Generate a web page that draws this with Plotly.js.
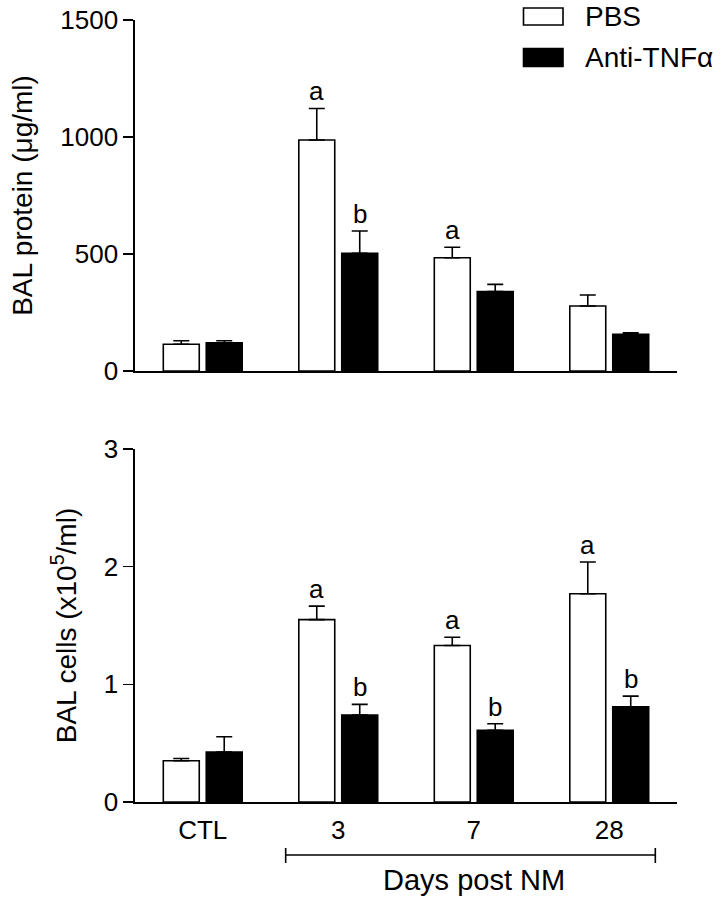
<!DOCTYPE html>
<html>
<head>
<meta charset="utf-8">
<script src="https://cdn.plot.ly/plotly-3.0.1.min.js"></script>
<style>html,body{margin:0;padding:0;background:#fff;}#chart{width:721px;height:899px;}</style>
</head>
<body>
<div id="chart"></div>
<script>
const categories = ['CTL', '3', '7', '28'];
const seriesNames = ['PBS', 'Anti-TNFα'];

const proteinPBS = [114, 987, 484, 278];
const proteinPBSErr = [15, 135, 45, 47];
const proteinAnti = [121, 503, 339, 157];
const proteinAntiErr = [8, 95, 31, 6];
const proteinPBSLetters = ['', 'a', 'a', ''];
const proteinAntiLetters = ['', 'b', '', ''];

const cellsPBS = [0.35, 1.55, 1.33, 1.77];
const cellsPBSErr = [0.02, 0.115, 0.07, 0.27];
const cellsAnti = [0.425, 0.74, 0.61, 0.81];
const cellsAntiErr = [0.13, 0.09, 0.055, 0.09];
const cellsPBSLetters = ['', 'a', 'a', 'a'];
const cellsAntiLetters = ['', 'b', 'b', 'b'];

const noLower = [0, 0, 0, 0];

const proteinTicks = [0, 500, 1000, 1500];
const cellsTicks = [0, 1, 2, 3];

const FONT = 'Arial, "Liberation Sans", Helvetica, sans-serif';
const W = 721, H = 899;
const M = {l: 135, r: 44, t: 20, b: 97};
const plotW = W - M.l - M.r, plotH = H - M.t - M.b;
const px2x = p => (p - M.l) / plotW;
const px2y = p => (H - M.b - p) / plotH;

function barTrace(y, err, xa, ya, fill, group, name) {
  return {
    type: 'bar', x: categories, y: y, xaxis: xa, yaxis: ya, name: name,
    offsetgroup: group, showlegend: false,
    marker: {color: fill, line: {color: '#000', width: 1.6}},
    error_y: {type: 'data', array: err, arrayminus: noLower, symmetric: false,
              color: '#000', thickness: 1.6, width: 8},
    hoverinfo: 'skip'
  };
}

const traces = [
  barTrace(proteinPBS, proteinPBSErr, 'x', 'y', '#fff', 'a', seriesNames[0]),
  barTrace(proteinAnti, proteinAntiErr, 'x', 'y', '#000', 'b', seriesNames[1]),
  barTrace(cellsPBS, cellsPBSErr, 'x2', 'y2', '#fff', 'a', seriesNames[0]),
  barTrace(cellsAnti, cellsAntiErr, 'x2', 'y2', '#000', 'b', seriesNames[1])
];

const annotations = [];
function addLetters(vals, errs, letters, xa, ya, shift) {
  categories.forEach((c, i) => {
    if (!letters[i]) return;
    annotations.push({
      x: i, y: vals[i] + errs[i], xref: xa, yref: ya, text: letters[i],
      showarrow: false, xanchor: 'center', yanchor: 'bottom', xshift: shift, yshift: 0,
      font: {family: FONT, size: 26, color: '#000'}
    });
  });
}
addLetters(proteinPBS, proteinPBSErr, proteinPBSLetters, 'x', 'y', -21.5);
addLetters(proteinAnti, proteinAntiErr, proteinAntiLetters, 'x', 'y', 21.5);
addLetters(cellsPBS, cellsPBSErr, cellsPBSLetters, 'x2', 'y2', -21.5);
addLetters(cellsAnti, cellsAntiErr, cellsAntiLetters, 'x2', 'y2', 21.5);

// legend (drawn manually)
const legendFills = ['#fff', '#000'];
const legendBoxes = [[8, 25], [48.5, 66.5]];
const shapes = [];
seriesNames.forEach((n, i) => {
  shapes.push({type: 'rect', xref: 'paper', yref: 'paper',
    x0: px2x(523.5), x1: px2x(563), y0: px2y(legendBoxes[i][0]), y1: px2y(legendBoxes[i][1]),
    fillcolor: legendFills[i], line: {color: '#000', width: 1.6}});
  annotations.push({xref: 'paper', yref: 'paper', x: px2x(583), y: px2y((legendBoxes[i][0] + legendBoxes[i][1]) / 2),
    xanchor: 'left', yanchor: 'middle', showarrow: false, text: n,
    font: {family: FONT, size: 28, color: '#000'}});
});

// bracket "Days post NM"
const brY = px2y(855);
shapes.push({type: 'line', xref: 'x2', yref: 'paper', x0: 0.612, x1: 3.34, y0: brY, y1: brY, line: {color: '#000', width: 1.6}});
shapes.push({type: 'line', xref: 'x2', yref: 'paper', x0: 0.612, x1: 0.612, y0: px2y(848), y1: px2y(863), line: {color: '#000', width: 1.6}});
shapes.push({type: 'line', xref: 'x2', yref: 'paper', x0: 3.34, x1: 3.34, y0: px2y(848), y1: px2y(863), line: {color: '#000', width: 1.6}});
annotations.push({xref: 'paper', yref: 'paper', x: px2x(474), y: px2y(880), xanchor: 'center', yanchor: 'middle',
  showarrow: false, text: 'Days post NM', font: {family: FONT, size: 29, color: '#000'}});

const axisCommon = {
  showgrid: false, zeroline: false, showline: true, linecolor: '#000', linewidth: 1.6,
  tickfont: {family: FONT, size: 26, color: '#000'}
};

const layout = {
  width: W, height: H, margin: M,
  paper_bgcolor: '#fff', plot_bgcolor: '#fff',
  barmode: 'group', bargap: 0.366, bargroupgap: 0.163,
  showlegend: false,
  font: {family: FONT, color: '#000'},
  xaxis: Object.assign({}, axisCommon, {anchor: 'y', domain: [0, 1], type: 'category', range: [-0.5, 3.5],
    showticklabels: false, ticks: ''}),
  yaxis: Object.assign({}, axisCommon, {anchor: 'x', domain: [px2y(371), 1], range: [0, 1500],
    tickvals: proteinTicks, ticks: 'outside', ticklen: 10, tickwidth: 1.6, tickcolor: '#000',
    title: {text: 'BAL protein (μg/ml)', font: {family: FONT, size: 28, color: '#000'}, standoff: 19}}),
  xaxis2: Object.assign({}, axisCommon, {anchor: 'y2', domain: [0, 1], type: 'category', range: [-0.5, 3.5],
    ticks: '', ticklabelstandoff: 4}),
  yaxis2: Object.assign({}, axisCommon, {anchor: 'x2', domain: [0, px2y(449)], range: [0, 3],
    tickvals: cellsTicks, ticks: 'outside', ticklen: 10, tickwidth: 1.6, tickcolor: '#000',
    title: {text: 'BAL cells (x10<sup>5</sup>/ml)', font: {family: FONT, size: 28, color: '#000'}, standoff: 19}}),
  shapes: shapes,
  annotations: annotations
};

Plotly.newPlot('chart', traces, layout, {staticPlot: true, displayModeBar: false});
</script>
</body>
</html>
